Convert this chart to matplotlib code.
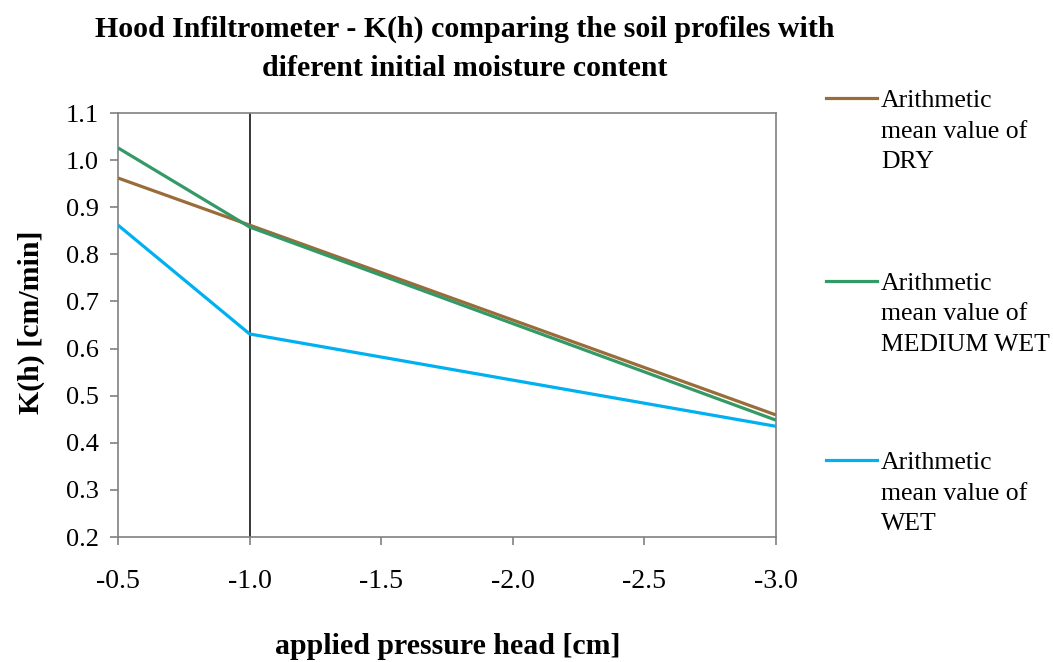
import matplotlib.pyplot as plt
from matplotlib.lines import Line2D
from matplotlib.ticker import FormatStrFormatter, MultipleLocator

plt.rcParams["font.family"] = ["Liberation Serif", "DejaVu Serif"]
plt.rcParams["axes.unicode_minus"] = False

# applied pressure head [cm] and mean K(h) [cm/min]
pressure_head = [-0.5, -1.0, -3.0]
k_dry = [0.962, 0.862, 0.459]
k_medium_wet = [1.026, 0.858, 0.448]
k_wet = [0.862, 0.631, 0.435]

series_labels = [
    "Arithmetic\nmean value of\nDRY",
    "Arithmetic\nmean value of\nMEDIUM WET",
    "Arithmetic\nmean value of\nWET",
]
series_colors = ["#9A6C3A", "#339966", "#00B0F0"]

W, H = 1053, 662
fig = plt.figure(figsize=(W / 100, H / 100), dpi=100)
ax = fig.add_axes([118 / W, 1 - 537 / H, 658 / W, 424 / H])

for yvals, color in zip([k_dry, k_medium_wet, k_wet], series_colors):
    ax.plot(pressure_head, yvals, color=color, lw=2.3, solid_capstyle="butt", zorder=3)

# value axis crosses at -1.0
ax.axvline(-1.0, color="black", lw=1.1, zorder=2)

ax.set_xlim(-0.5, -3.0)
ax.set_ylim(0.2, 1.1)
ax.xaxis.set_major_locator(MultipleLocator(0.5))
ax.yaxis.set_major_locator(MultipleLocator(0.1))
ax.xaxis.set_major_formatter(FormatStrFormatter("%.1f"))
ax.yaxis.set_major_formatter(FormatStrFormatter("%.1f"))

for s in ax.spines.values():
    s.set_color("#808080")
    s.set_linewidth(1.2)
ax.tick_params(axis="both", direction="out", length=6, width=1.2, color="#808080")
ax.tick_params(axis="y", labelsize=19, pad=8)
ax.tick_params(axis="x", labelsize=20, pad=17)

ax.set_xlabel("applied pressure head [cm]", fontsize=21.5, fontweight="bold", va="center")
ax.set_ylabel("K(h) [cm/min]", fontsize=21.5, fontweight="bold", va="center")
ax.xaxis.set_label_coords(0.5015, -0.258)
ax.yaxis.set_label_coords(-0.132, 0.507)

fig.text(465 / W, 1 - 29 / H, "Hood Infiltrometer - K(h) comparing the soil profiles with",
         ha="center", va="center", fontsize=21.5, fontweight="bold")
fig.text(465 / W, 1 - 69 / H, "diferent initial moisture content",
         ha="center", va="center", fontsize=21.5, fontweight="bold")

# legend entries on the right
legend_rows = [98, 281, 460]
for label, color, yrow in zip(series_labels, series_colors, legend_rows):
    yf = 1 - yrow / H
    fig.add_artist(Line2D([826 / W, 877 / W], [yf, yf], color=color, lw=2.3,
                          transform=fig.transFigure))
    fig.text(881 / W, 1 - (yrow - 8) / H, label, ha="left", va="top", fontsize=18.5,
             linespacing=1.5, transform=fig.transFigure)

fig.savefig("out.png", dpi=100)
